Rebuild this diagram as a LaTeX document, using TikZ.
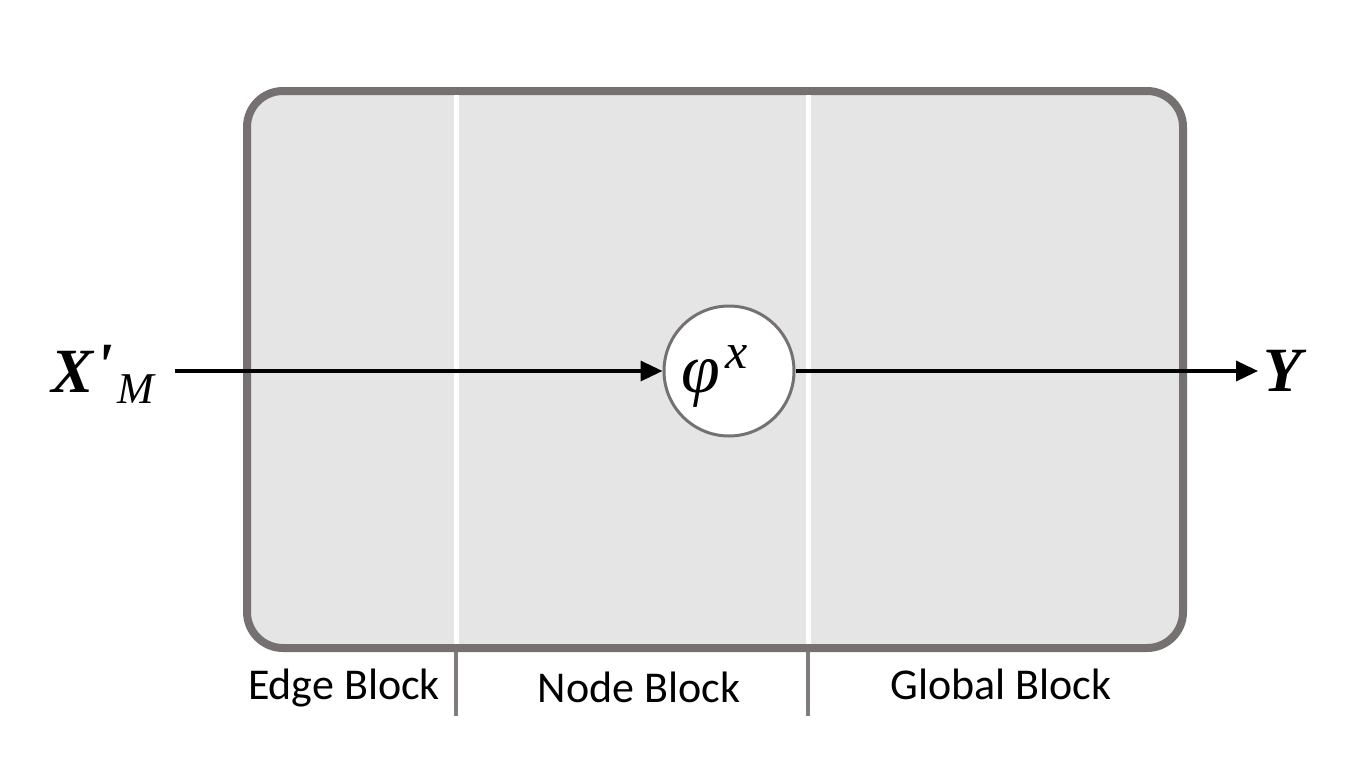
\documentclass[tikz,border=0pt]{standalone}
\usepackage{fontspec}
\setmainfont{Carlito}
\newfontfamily\mathser{Liberation Serif}
\usetikzlibrary{arrows.meta}
\definecolor{frame}{HTML}{767171}
\definecolor{panel}{HTML}{E5E5E5}
\definecolor{tick}{HTML}{807C7C}
\tikzset{
  conn/.style={line width=3.5pt,-{Triangle[length=22pt,width=20pt]}},
  blocklabel/.style={font=\fontsize{44}{48}\selectfont, anchor=base, inner sep=0pt},
  bigsym/.style={font=\mathser\fontsize{63}{66}\selectfont, inner sep=0pt},
}
\begin{document}
\begin{tikzpicture}[x=1pt,y=-1pt]
\useasboundingbox (0,0) rectangle (1364,760);
% main box
\draw[fill=panel, draw=frame, line width=8pt, rounded corners=36pt] (247,91) rectangle (1183,648);
% white separators
\draw[white, line width=5pt] (456,95) -- (456,644);
\draw[white, line width=5pt] (808,95) -- (808,644);
% ticks below
\draw[tick, line width=4pt] (456,652) -- (456,716);
\draw[tick, line width=4pt] (808,652) -- (808,716);
% labels
\node[blocklabel] (eb) at (344,699) {Edge Block};
\node[blocklabel] (nb) at (639,702) {Node Block};
\node[blocklabel] (gb) at (1001,699) {Global Block};
% circle
\node[circle, draw=frame, fill=white, line width=3pt, minimum size=130pt, inner sep=0pt] (phi) at (729,371) {};
\node[anchor=base west, inner sep=0pt, font=\mathser\itshape\fontsize{70}{74}\selectfont] (phit) at (681,392)
  {φ\kern6pt\raisebox{24pt}{\fontsize{50}{52}\selectfont x}};
% inputs/outputs
\node[bigsym, anchor=base west] (xin) at (51,392)
  {\bfseries\itshape X\kern2pt\raisebox{6pt}{'}\kern5pt\raisebox{-11pt}{\mdseries\fontsize{44}{46}\selectfont M}};
\coordinate (xs) at (175,371);
\node[bigsym, anchor=base west] (yout) at (1263,391) {\bfseries\itshape Y};
\coordinate (ye) at (1258,371);
\draw[conn] (xs) -- (phi.west);
\draw[conn] (phi.east) -- (ye);
\end{tikzpicture}
\end{document}
